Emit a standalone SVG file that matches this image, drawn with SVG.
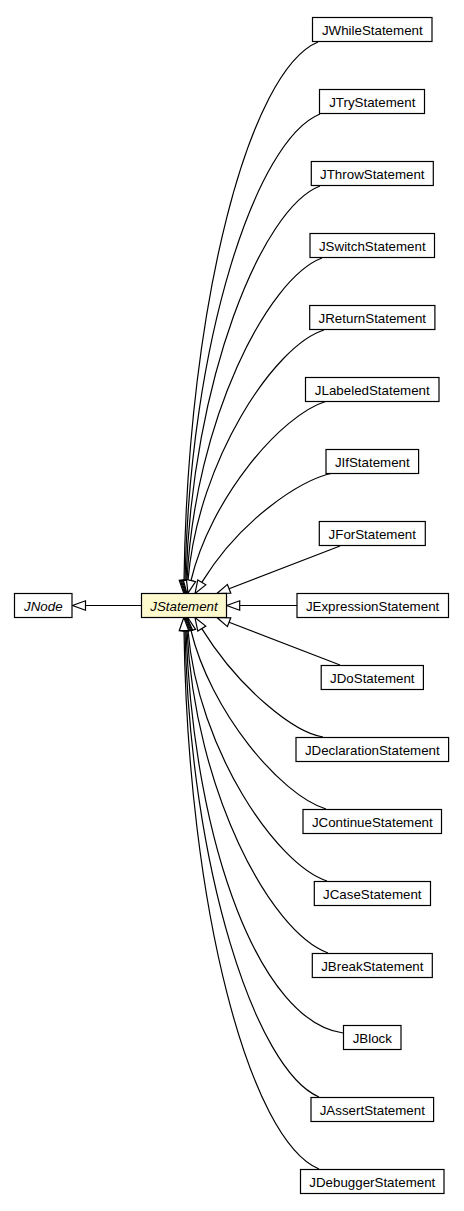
<svg xmlns="http://www.w3.org/2000/svg" width="464" height="1211" viewBox="0 0 464 1211">
<style>
.n rect{fill:#fff;stroke:#000;stroke-width:1.2}
.n text{font-family:"Liberation Sans",Arial,sans-serif;font-size:13.33px;fill:#000;text-anchor:middle}
.n.a text{font-style:italic}
#JStatement rect{fill:#fffacd}
.e path{fill:none;stroke:#000;stroke-width:1.2;marker-end:url(#tri)}
</style>
<defs>
<marker id="tri" markerUnits="userSpaceOnUse" markerWidth="15" markerHeight="12" viewBox="0 -6 15 12" refX="0" refY="0" orient="auto" overflow="visible">
<path d="M0,-4.7 L13,0 L0,4.7 Z" fill="#fff" stroke="#000" stroke-width="1.2"/>
</marker>
</defs>
<rect width="464" height="1211" fill="#fff"/>
<g id="edges" class="e">
<path d="M141.5,605.5 L85.5,605.5"/>
<path d="M318,42 C250,70 188,300 184,580.5"/>
<path d="M320,114 C256,140 190,340 185,580.5"/>
<path d="M320,186 C262,208 192,380 186,580.5"/>
<path d="M322,258 C268,278 195,420 187,580.5"/>
<path d="M324,330 C275,345 198,460 188,580.5"/>
<path d="M327,401 C280,415 210,500 191,580.5"/>
<path d="M333,473 C300,480 240,520 201.8,582.4"/>
<path d="M340,546 L229.1,588.8"/>
<path d="M297,605.5 L239.7,605.5"/>
<path d="M340,665 L229.1,622.2"/>
<path d="M323,737 C295,733 240,690 201.8,628.6"/>
<path d="M326,809 C280,795 210,710 191,630.5"/>
<path d="M327,881 C277,865 198,750 188,630.5"/>
<path d="M328,953 C270,932 195,790 187,630.5"/>
<path d="M343,1033 C262,1022 194,850 186,630.5"/>
<path d="M319,1097 C256,1070 190,870 185,630.5"/>
<path d="M319,1169 C250,1140 188,910 184,630.5"/>
</g>
<g id="JNode" class="n a"><rect x="14.5" y="593.5" width="57.5" height="24"/><text x="43.3" y="610.5">JNode</text></g>
<g id="JStatement" class="n a"><rect x="141.5" y="593.5" width="85" height="24"/><text x="184" y="610.5">JStatement</text></g>
<g id="JWhileStatement" class="n"><rect x="312.5" y="17.5" width="119.5" height="24"/><text x="372.3" y="34.5">JWhileStatement</text></g>
<g id="JTryStatement" class="n"><rect x="319.5" y="89.5" width="105" height="24"/><text x="372.3" y="106.5">JTryStatement</text></g>
<g id="JThrowStatement" class="n"><rect x="311.3" y="161.5" width="122" height="24"/><text x="372.3" y="178.5">JThrowStatement</text></g>
<g id="JSwitchStatement" class="n"><rect x="310" y="233.5" width="124.5" height="24"/><text x="372.3" y="250.5">JSwitchStatement</text></g>
<g id="JReturnStatement" class="n"><rect x="309.7" y="305.5" width="125.2" height="24"/><text x="372.3" y="322.5">JReturnStatement</text></g>
<g id="JLabeledStatement" class="n"><rect x="305.5" y="377.5" width="133.5" height="24"/><text x="372.3" y="394.5">JLabeledStatement</text></g>
<g id="JIfStatement" class="n"><rect x="326" y="449.5" width="92.6" height="24"/><text x="372.3" y="466.5">JIfStatement</text></g>
<g id="JForStatement" class="n"><rect x="319.3" y="521.5" width="106" height="24"/><text x="372.3" y="538.5">JForStatement</text></g>
<g id="JExpressionStatement" class="n"><rect x="297" y="593.5" width="151.5" height="24"/><text x="372.6" y="610.5">JExpressionStatement</text></g>
<g id="JDoStatement" class="n"><rect x="321.2" y="665.5" width="102.2" height="24"/><text x="372.3" y="682.5">JDoStatement</text></g>
<g id="JDeclarationStatement" class="n"><rect x="296" y="737.5" width="152.6" height="24"/><text x="372.3" y="754.5">JDeclarationStatement</text></g>
<g id="JContinueStatement" class="n"><rect x="303" y="809.5" width="138.5" height="24"/><text x="372.3" y="826.5">JContinueStatement</text></g>
<g id="JCaseStatement" class="n"><rect x="314.3" y="881.5" width="116.2" height="24"/><text x="372.3" y="898.5">JCaseStatement</text></g>
<g id="JBreakStatement" class="n"><rect x="312.3" y="953.5" width="120" height="24"/><text x="372.3" y="970.5">JBreakStatement</text></g>
<g id="JBlock" class="n"><rect x="343.5" y="1025.5" width="57.5" height="24"/><text x="372.3" y="1042.5">JBlock</text></g>
<g id="JAssertStatement" class="n"><rect x="311" y="1097.5" width="122.6" height="24"/><text x="372.3" y="1114.5">JAssertStatement</text></g>
<g id="JDebuggerStatement" class="n"><rect x="300.5" y="1169.5" width="143.5" height="24"/><text x="372.3" y="1186.5">JDebuggerStatement</text></g>
</svg>
